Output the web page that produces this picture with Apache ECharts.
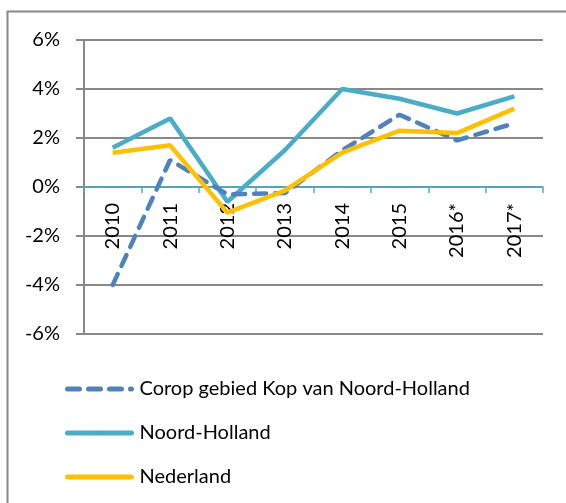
<!DOCTYPE html>
<html>
<head>
<meta charset="utf-8">
<script src="https://cdn.jsdelivr.net/npm/echarts@6/dist/echarts.min.js"></script>
<style>
  html, body { margin: 0; padding: 0; background: #fff; }
  #chart { width: 566px; height: 503px; }
</style>
</head>
<body>
<div id="chart"></div>
<script>
// categories and series (percent)
var years = ['2010', '2011', '2012', '2013', '2014', '2015', '2016*', '2017*'];
var corop = [-4.0, 1.1, -0.3, -0.25, 1.5, 2.95, 1.9, 2.6];
var noordHolland = [1.6, 2.8, -0.6, 1.5, 4.0, 3.6, 3.0, 3.7];
var nederland = [1.4, 1.7, -1.05, -0.15, 1.4, 2.3, 2.2, 3.2];
var names = ['Corop gebied Kop van Noord-Holland', 'Noord-Holland', 'Nederland'];

var chart = echarts.init(document.getElementById('chart'));
var font = 'Lato, "Liberation Sans", Arial, sans-serif';

var option = {
  animation: false,
  textStyle: { fontFamily: font },
  graphic: [{
    type: 'rect',
    shape: { x: 7.5, y: 11.5, width: 600, height: 600 },
    style: { fill: 'none', stroke: '#888', lineWidth: 2 },
    silent: true
  }],
  grid: { left: 84, right: 23, top: 40, bottom: 169 },
  legend: {
    orient: 'vertical',
    left: 60,
    top: 374,
    itemWidth: 64,
    itemHeight: 5,
    itemGap: 24,
    lineStyle: { width: 5, cap: 'round' },
    textStyle: { fontSize: 20, color: '#000', fontFamily: font, padding: [0, 0, 0, 3] },
    data: names
  },
  xAxis: {
    type: 'category',
    data: years,
    boundaryGap: true,
    offset: -147,
    axisLine: { onZero: false, lineStyle: { color: '#4BACC6', width: 1.5 } },
    axisTick: { show: true, length: 6, lineStyle: { color: '#4BACC6', width: 1.5 } },
    axisLabel: { rotate: 90, margin: 16, fontSize: 20, color: '#000', fontFamily: font },
    splitLine: { show: false }
  },
  yAxis: {
    type: 'value',
    min: -6,
    max: 6,
    interval: 2,
    axisLine: { show: true, lineStyle: { color: '#888', width: 2 } },
    axisTick: { show: true, length: 8, lineStyle: { color: '#888', width: 2 } },
    axisLabel: { formatter: '{value}%', margin: 24, fontSize: 20, color: '#000', fontFamily: font },
    splitLine: { show: true, lineStyle: { color: '#888', width: 2 } }
  },
  series: [
    {
      name: names[0], type: 'line', data: corop, symbol: 'none', z: 3,
      lineStyle: { color: '#4F81BD', width: 4.5, type: [12, 9], cap: 'round' },
      itemStyle: { color: '#4F81BD' }
    },
    {
      name: names[1], type: 'line', data: noordHolland, symbol: 'none', z: 2,
      lineStyle: { color: '#4BACC6', width: 4.5 },
      itemStyle: { color: '#4BACC6' }
    },
    {
      name: names[2], type: 'line', data: nederland, symbol: 'none', z: 4,
      lineStyle: { color: '#FFC000', width: 4.5 },
      itemStyle: { color: '#FFC000' }
    }
  ]
};
chart.setOption(option);
</script>
</body>
</html>
